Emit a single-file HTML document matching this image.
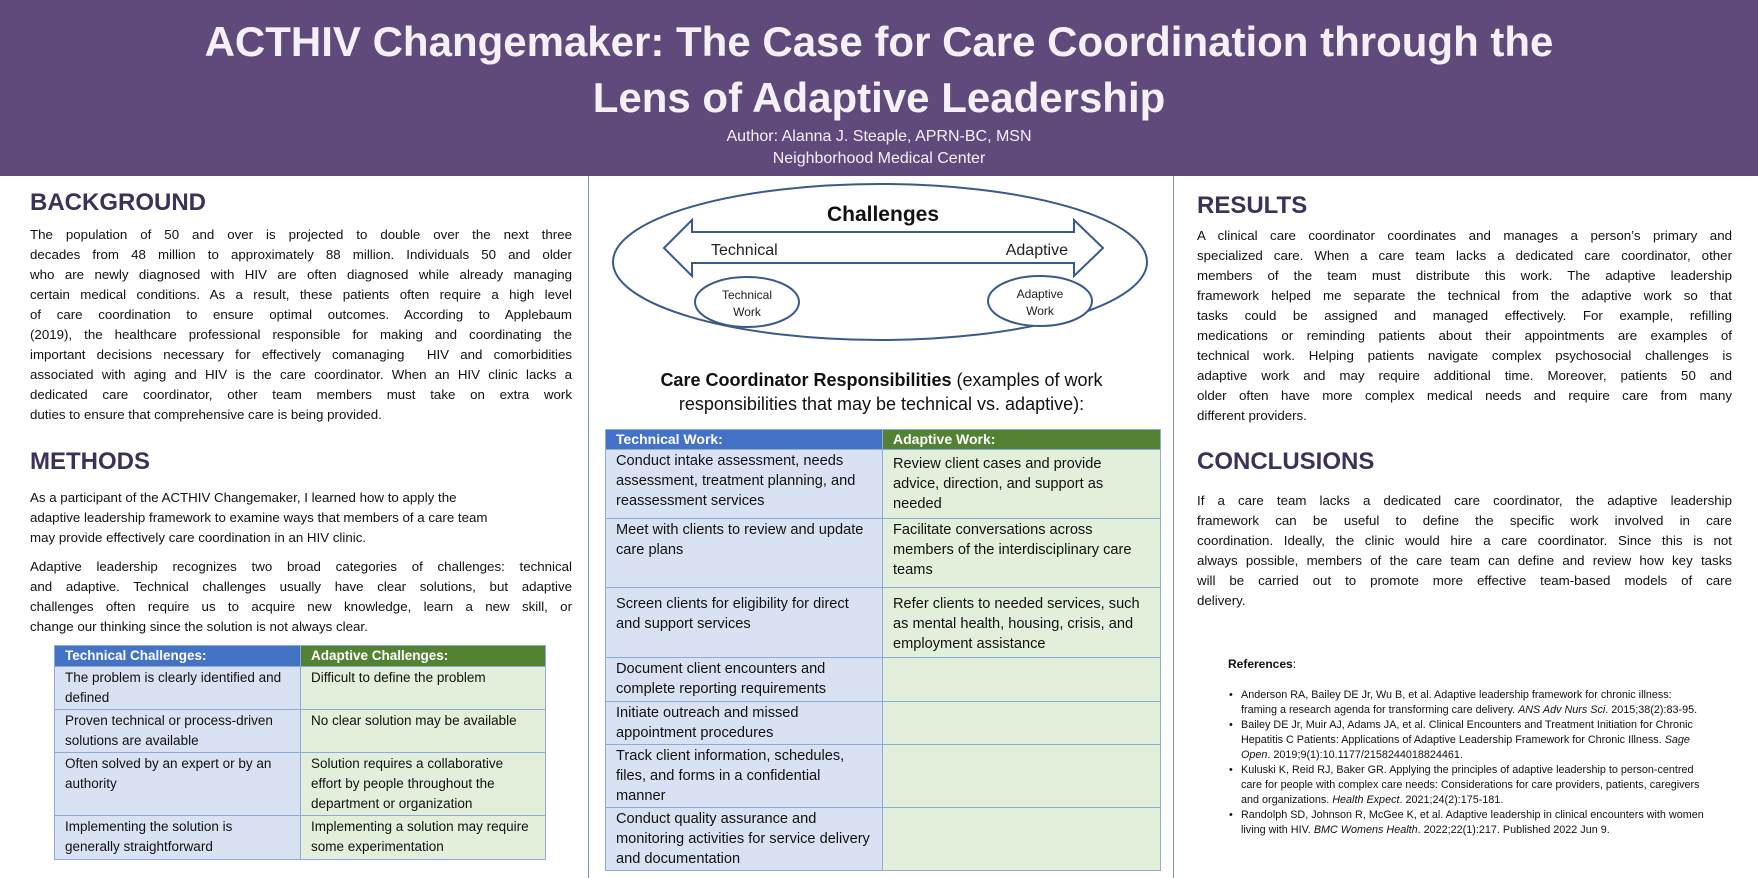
<!DOCTYPE html>
<html><head><meta charset="utf-8"><style>
*{margin:0;padding:0;box-sizing:border-box}
body{width:1758px;height:878px;position:relative;background:#fff;font-family:"Liberation Sans",sans-serif;color:#111;overflow:hidden}
.hdr{position:absolute;left:0;top:0;width:1758px;height:176px;background:#604a7b;color:#f4f0f6;text-align:center}
.a{position:absolute}
.h{font-weight:bold;font-size:24px;color:#3d3158}
.p{font-size:13.3px;line-height:20px}
.p div{text-align:justify;text-align-last:justify;white-space:nowrap;overflow:visible}
.p div.l{text-align-last:left}
.p2 div{text-align-last:left}
.vl{position:absolute;top:176px;width:1px;height:702px;background:#7f94b8}
table{border-collapse:collapse;position:absolute;font-family:"Liberation Sans",sans-serif}
td{vertical-align:top;border:1px solid #8eaadb}
.t1 td{font-size:13.5px;line-height:20px;padding:1px 10px}
.t2 td{font-size:14.6px;line-height:20px;padding:1px 10px}
.bh{background:#4472c4;color:#fff;font-weight:bold}
.gh{background:#548235;color:#fff;font-weight:bold}
.b{background:#d9e2f3}.g{background:#e2efda}
.ref{font-size:10.8px;line-height:15px;white-space:nowrap}
.ref li{list-style:none;position:relative;padding-left:12px;margin-bottom:0}
.ref li:before{content:"•";position:absolute;left:0}
</style></head><body>
<div class="hdr">
<div class="a" style="left:0;width:1758px;top:14px;font-size:42px;font-weight:bold;line-height:56px">ACTHIV Changemaker: The Case for Care Coordination through the<br>Lens of Adaptive Leadership</div>
<div class="a" style="left:0;width:1758px;top:126px;font-size:16px;line-height:22px">Author: Alanna J. Steaple, APRN-BC, MSN<br>Neighborhood Medical Center</div>
</div>
<div class="vl" style="left:588px"></div>
<div class="vl" style="left:1173px"></div>

<div class="a h" style="left:30px;top:189px">BACKGROUND</div>
<div class="a p" style="left:30px;top:225px;width:542px">
<div>The population of 50 and over is projected to double over the next three</div>
<div>decades from 48 million to approximately 88 million. Individuals 50 and older</div>
<div>who are newly diagnosed with HIV are often diagnosed while already managing</div>
<div>certain medical conditions. As a result, these patients often require a high level</div>
<div>of care coordination to ensure optimal outcomes. According to Applebaum</div>
<div>(2019), the healthcare professional responsible for making and coordinating the</div>
<div>important decisions necessary for effectively comanaging&nbsp; HIV and comorbidities</div>
<div>associated with aging and HIV is the care coordinator. When an HIV clinic lacks a</div>
<div>dedicated care coordinator, other team members must take on extra work</div>
<div class="l">duties to ensure that comprehensive care is being provided.</div>
</div>
<div class="a h" style="left:30px;top:448px">METHODS</div>
<div class="a p p2" style="left:30px;top:488px;width:542px">
<div>As a participant of the ACTHIV Changemaker, I learned how to apply the</div>
<div>adaptive leadership framework to examine ways that members of a care team</div>
<div>may provide effectively care coordination in an HIV clinic.</div>
</div>
<div class="a p" style="left:30px;top:557px;width:542px">
<div>Adaptive leadership recognizes two broad categories of challenges: technical</div>
<div>and adaptive. Technical challenges usually have clear solutions, but adaptive</div>
<div>challenges often require us to acquire new knowledge, learn a new skill, or</div>
<div class="l">change our thinking since the solution is not always clear.</div>
</div>
<table class="t1" style="left:54px;top:645px;width:492px">
<tr style="height:21px"><td class="bh" style="width:246px;line-height:17px">Technical Challenges:</td><td class="gh" style="line-height:17px">Adaptive Challenges:</td></tr>
<tr style="height:41px"><td class="b">The problem is clearly identified and defined</td><td class="g">Difficult to define the problem</td></tr>
<tr style="height:42px"><td class="b">Proven technical or process-driven solutions are available</td><td class="g">No clear solution may be available</td></tr>
<tr style="height:60px"><td class="b">Often solved by an expert or by an authority</td><td class="g">Solution requires a collaborative effort by people throughout the department or organization</td></tr>
<tr style="height:44px"><td class="b">Implementing the solution is generally straightforward</td><td class="g">Implementing a solution may require some experimentation</td></tr>
</table>

<svg class="a" style="left:600px;top:180px" width="560" height="170" viewBox="600 180 560 170">
<ellipse cx="880" cy="262" rx="267" ry="78" fill="none" stroke="#3a5a8a" stroke-width="2"/>
<polygon points="664,248 692,220 692,232 1074,232 1074,220 1103,248 1074,276 1074,263 692,263 692,276" fill="#fff" stroke="#3a5a8a" stroke-width="2"/>
<ellipse cx="747" cy="302" rx="52" ry="25" fill="#fff" stroke="#3a5a8a" stroke-width="2"/>
<ellipse cx="1040" cy="301" rx="52" ry="25" fill="#fff" stroke="#3a5a8a" stroke-width="2"/>
<text x="883" y="221" text-anchor="middle" font-family="Liberation Sans" font-weight="bold" font-size="21" fill="#111">Challenges</text>
<text x="711" y="255" font-family="Liberation Sans" font-size="16" fill="#222">Technical</text>
<text x="1068" y="255" text-anchor="end" font-family="Liberation Sans" font-size="16" fill="#222">Adaptive</text>
<text x="747" y="299" text-anchor="middle" font-family="Liberation Sans" font-size="12" fill="#222">Technical</text>
<text x="747" y="316" text-anchor="middle" font-family="Liberation Sans" font-size="12" fill="#222">Work</text>
<text x="1040" y="298" text-anchor="middle" font-family="Liberation Sans" font-size="12" fill="#222">Adaptive</text>
<text x="1040" y="315" text-anchor="middle" font-family="Liberation Sans" font-size="12" fill="#222">Work</text>
</svg>
<div class="a" style="left:590px;width:583px;top:368px;text-align:center;font-size:18px;line-height:24px"><b>Care Coordinator Responsibilities</b> (examples of work<br>responsibilities that may be technical vs. adaptive):</div>
<table class="t2" style="left:605px;top:429px;width:556px">
<tr style="height:20px"><td class="bh" style="width:277px;line-height:17px;font-size:14px">Technical Work:</td><td class="gh" style="line-height:17px;font-size:14px">Adaptive Work:</td></tr>
<tr style="height:69px"><td class="b">Conduct intake assessment, needs assessment, treatment planning, and reassessment services</td><td class="g" style="padding-top:4px">Review client cases and provide advice, direction, and support as needed</td></tr>
<tr style="height:69px"><td class="b">Meet with clients to review and update care plans</td><td class="g">Facilitate conversations across members of the interdisciplinary care teams</td></tr>
<tr style="height:70px"><td class="b" style="padding-top:6px">Screen clients for eligibility for direct and support services</td><td class="g" style="padding-top:6px">Refer clients to needed services, such as mental health, housing, crisis, and employment assistance</td></tr>
<tr style="height:44px"><td class="b">Document client encounters and complete reporting requirements</td><td class="g"></td></tr>
<tr style="height:38px"><td class="b">Initiate outreach and missed appointment procedures</td><td class="g"></td></tr>
<tr style="height:62px"><td class="b">Track client information, schedules, files, and forms in a confidential manner</td><td class="g"></td></tr>
<tr style="height:60px"><td class="b">Conduct quality assurance and monitoring activities for service delivery and documentation</td><td class="g"></td></tr>
</table>

<div class="a h" style="left:1197px;top:192px">RESULTS</div>
<div class="a p" style="left:1197px;top:226px;width:535px">
<div>A clinical care coordinator coordinates and manages a person’s primary and</div>
<div>specialized care. When a care team lacks a dedicated care coordinator, other</div>
<div>members of the team must distribute this work. The adaptive leadership</div>
<div>framework helped me separate the technical from the adaptive work so that</div>
<div>tasks could be assigned and managed effectively. For example, refilling</div>
<div>medications or reminding patients about their appointments are examples of</div>
<div>technical work. Helping patients navigate complex psychosocial challenges is</div>
<div>adaptive work and may require additional time. Moreover, patients 50 and</div>
<div>older often have more complex medical needs and require care from many</div>
<div class="l">different providers.</div>
</div>
<div class="a h" style="left:1197px;top:448px">CONCLUSIONS</div>
<div class="a p" style="left:1197px;top:491px;width:535px">
<div>If a care team lacks a dedicated care coordinator, the adaptive leadership</div>
<div>framework can be useful to define the specific work involved in care</div>
<div>coordination. Ideally, the clinic would hire a care coordinator. Since this is not</div>
<div>always possible, members of the care team can define and review how key tasks</div>
<div>will be carried out to promote more effective team-based models of care</div>
<div class="l">delivery.</div>
</div>
<div class="a" style="left:1228px;top:657px;font-size:12px;font-weight:bold">References<span style="font-weight:normal">:</span></div>
<ul class="a ref" style="left:1229px;top:688px;width:520px">
<li>Anderson RA, Bailey DE Jr, Wu B, et al. Adaptive leadership framework for chronic illness:<br>framing a research agenda for transforming care delivery. <i>ANS Adv Nurs Sci</i>. 2015;38(2):83-95.</li>
<li>Bailey DE Jr, Muir AJ, Adams JA, et al. Clinical Encounters and Treatment Initiation for Chronic<br>Hepatitis C Patients: Applications of Adaptive Leadership Framework for Chronic Illness. <i>Sage</i><br><i>Open</i>. 2019;9(1):10.1177/2158244018824461.</li>
<li>Kuluski K, Reid RJ, Baker GR. Applying the principles of adaptive leadership to person-centred<br>care for people with complex care needs: Considerations for care providers, patients, caregivers<br>and organizations. <i>Health Expect</i>. 2021;24(2):175-181.</li>
<li>Randolph SD, Johnson R, McGee K, et al. Adaptive leadership in clinical encounters with women<br>living with HIV. <i>BMC Womens Health</i>. 2022;22(1):217. Published 2022 Jun 9.</li>
</ul>
</body></html>
